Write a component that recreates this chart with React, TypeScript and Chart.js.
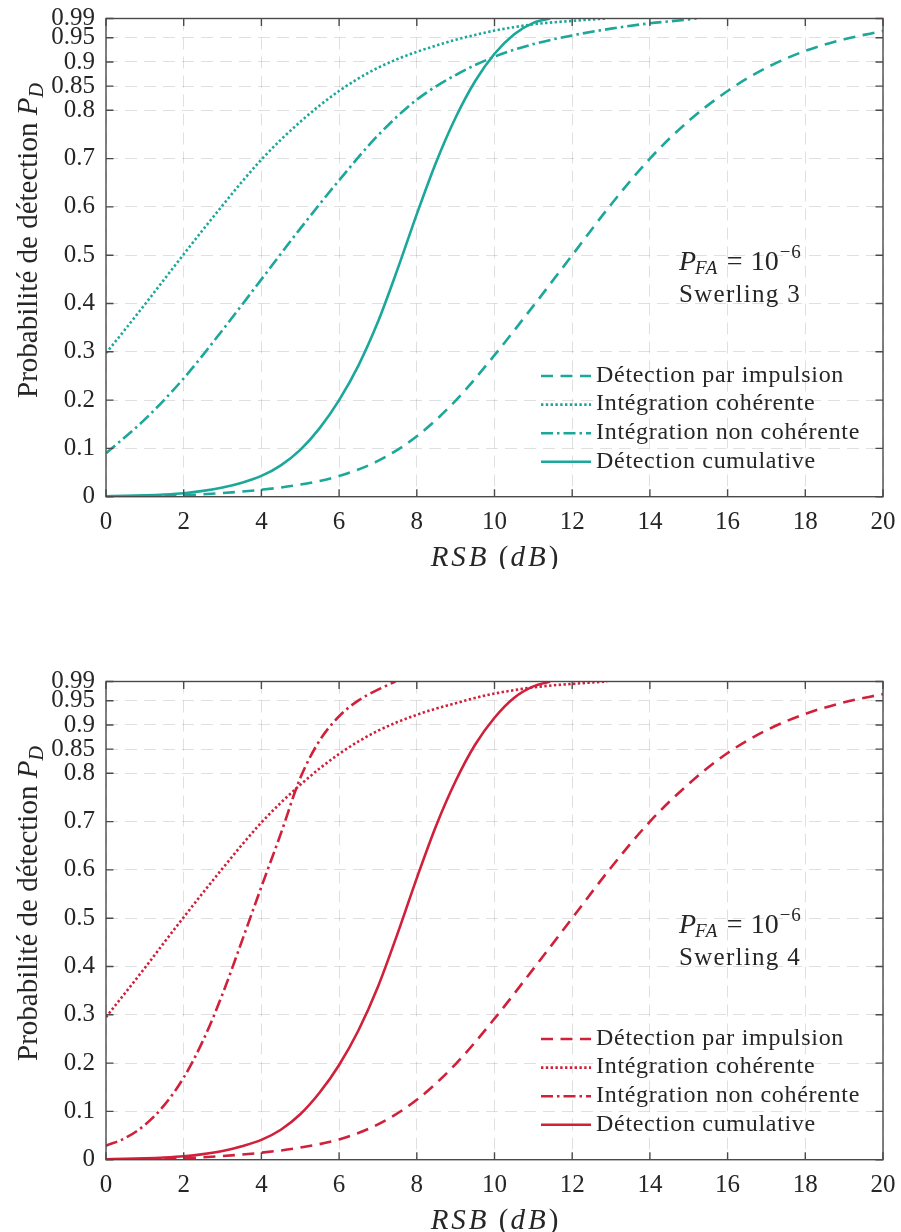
import React, { useEffect, useRef } from "react";
import { Chart, registerables } from "chart.js";

Chart.register(...registerables);

// ---------- data ----------
const X_TICKS = [0, 2, 4, 6, 8, 10, 12, 14, 16, 18, 20];
const Y_TICKS = [0, 0.1, 0.2, 0.3, 0.4, 0.5, 0.6, 0.7, 0.8, 0.85, 0.9, 0.95, 0.99];

const LEGEND_LABELS = [
  "Détection par impulsion",
  "Intégration cohérente",
  "Intégration non cohérente",
  "Détection cumulative",
];

// single pulse (dashed)
const SNR_SINGLE = [0, 1, 2, 3, 4, 5, 6, 7, 8, 9, 10, 11, 12, 13, 14, 15, 16, 17, 18, 19, 20];
const PD_SINGLE_SW3 = [0, 0.0008, 0.003, 0.0075, 0.0145, 0.025, 0.043, 0.074, 0.125, 0.199, 0.293, 0.395, 0.5, 0.605, 0.7, 0.778, 0.84, 0.888, 0.923, 0.947, 0.964];
const PD_SINGLE_SW4 = [0, 0.0008, 0.003, 0.0075, 0.0145, 0.025, 0.042, 0.073, 0.124, 0.198, 0.292, 0.395, 0.5, 0.605, 0.7, 0.778, 0.842, 0.889, 0.923, 0.947, 0.964];

// coherent integration (dotted)
const SNR_COH = [0, 0.5, 1, 1.5, 2, 2.5, 3, 3.5, 4, 4.5, 5, 5.5, 6, 6.5, 7, 7.5, 8, 8.5, 9, 9.5, 10, 10.5, 11, 11.5, 12, 12.5, 12.9];
const PD_COH_SW3 = [0.297, 0.347, 0.398, 0.45, 0.502, 0.553, 0.603, 0.652, 0.698, 0.739, 0.776, 0.81, 0.84, 0.866, 0.888, 0.906, 0.921, 0.934, 0.946, 0.956, 0.965, 0.972, 0.978, 0.982, 0.985, 0.988, 0.99];
const PD_COH_SW4 = [0.295, 0.346, 0.397, 0.45, 0.502, 0.553, 0.603, 0.652, 0.698, 0.739, 0.776, 0.81, 0.84, 0.866, 0.888, 0.906, 0.921, 0.934, 0.945, 0.956, 0.965, 0.972, 0.978, 0.982, 0.985, 0.988, 0.99];

// non-coherent integration (dash-dot)
const SNR_NC_SW3 = [0, 1, 2, 3, 4, 5, 6, 7, 8, 9, 10, 11, 12, 13, 14, 15, 15.2];
const PD_NC_SW3 = [0.09, 0.16, 0.245, 0.345, 0.45, 0.555, 0.655, 0.748, 0.822, 0.873, 0.911, 0.937, 0.955, 0.969, 0.98, 0.988, 0.99];
const SNR_NC_SW4 = [0, 0.5, 1, 1.5, 2, 2.5, 3, 3.5, 4, 4.5, 5, 5.5, 6, 6.5, 7, 7.45];
const PD_NC_SW4 = [0.029, 0.045, 0.072, 0.113, 0.17, 0.247, 0.343, 0.453, 0.565, 0.675, 0.79, 0.868, 0.918, 0.951, 0.973, 0.99];

// cumulative detection (solid)
const SNR_CUM = [0, 0.5, 1, 1.5, 2, 2.5, 3, 3.5, 4, 4.5, 5, 5.5, 6, 6.5, 7, 7.5, 8, 8.5, 9, 9.5, 10, 10.5, 11, 11.43];
const PD_CUM_SW3 = [0.001, 0.0017, 0.0028, 0.0045, 0.0072, 0.012, 0.019, 0.029, 0.043, 0.065, 0.097, 0.142, 0.2, 0.272, 0.362, 0.47, 0.585, 0.693, 0.785, 0.86, 0.917, 0.957, 0.981, 0.99];
const PD_CUM_SW4 = [0.001, 0.0017, 0.0028, 0.0045, 0.0071, 0.0115, 0.018, 0.028, 0.041, 0.062, 0.094, 0.139, 0.196, 0.268, 0.358, 0.467, 0.583, 0.692, 0.784, 0.859, 0.915, 0.956, 0.98, 0.99];

// ---------- style ----------
const TEAL = "#1ba79a";
const CRIMSON = "#d0203a";
const FONT = '"Liberation Serif", "Times New Roman", serif';
const TEXT = "#262626";
const GRID = "rgba(0,0,0,0.12)";
const DASHES = [[12, 7.5], [2.4, 2.4], [12, 4, 2.5, 4], []];
const LW = 2.6;

const W = 901;
const H = 569;

function pts(xs: number[], ys: number[]) {
  return xs.map((x, i) => ({ x, y: ys[i] }));
}

function setFont(ctx: CanvasRenderingContext2D, p: any) {
  ctx.font = `${p.italic ? "italic " : ""}${p.size}px ${FONT}`;
  (ctx as any).letterSpacing = p.ls ? `${p.ls}px` : "0px";
}

function drawPieces(ctx: CanvasRenderingContext2D, pieces: any[], x: number, y: number) {
  let cx = x;
  for (const p of pieces) {
    setFont(ctx, p);
    cx += p.dx || 0;
    ctx.fillText(p.t, cx, y + (p.dy || 0));
    cx += ctx.measureText(p.t).width;
  }
  (ctx as any).letterSpacing = "0px";
  return cx - x;
}

function measurePieces(ctx: CanvasRenderingContext2D, pieces: any[]) {
  let w = 0;
  for (const p of pieces) {
    setFont(ctx, p);
    w += ctx.measureText(p.t).width + (p.dx || 0);
  }
  (ctx as any).letterSpacing = "0px";
  return w;
}

function makeOverlay(color: string, swerling: string) {
  return {
    id: "overlay",
    afterDraw(chart: any) {
      const { ctx, chartArea: a, scales } = chart;
      const xs = scales.x;
      const ys = scales.y;
      ctx.save();

      // frame
      ctx.setLineDash([]);
      ctx.strokeStyle = "#4a4a4a";
      ctx.lineWidth = 1.4;
      ctx.strokeRect(a.left, a.top, a.right - a.left, a.bottom - a.top);

      // inward ticks on all sides
      const TL = 7.5;
      ctx.beginPath();
      X_TICKS.forEach((v) => {
        const px = xs.getPixelForValue(v);
        ctx.moveTo(px, a.bottom);
        ctx.lineTo(px, a.bottom - TL);
        ctx.moveTo(px, a.top);
        ctx.lineTo(px, a.top + TL);
      });
      Y_TICKS.forEach((v) => {
        const py = ys.getPixelForValue(v);
        ctx.moveTo(a.left, py);
        ctx.lineTo(a.left + TL, py);
        ctx.moveTo(a.right, py);
        ctx.lineTo(a.right - TL, py);
      });
      ctx.stroke();

      ctx.fillStyle = TEXT;
      ctx.textBaseline = "alphabetic";
      ctx.textAlign = "left";

      // y-axis title (rotated)
      ctx.save();
      ctx.translate(37, a.top + 379.5);
      ctx.rotate(-Math.PI / 2);
      drawPieces(ctx, [
        { t: "Probabilité de détection ", size: 29 },
        { t: "P", size: 29, italic: true },
        { t: "D", size: 20, italic: true, dy: 6 },
      ], 0, 0);
      ctx.restore();

      // x-axis title
      const xt = [
        { t: "RSB", size: 29, italic: true, ls: 3 },
        { t: " (", size: 29, ls: 2 },
        { t: "dB", size: 29, italic: true, ls: 3 },
        { t: ")", size: 29 },
      ];
      const xw = measurePieces(ctx, xt);
      drawPieces(ctx, xt, (a.left + a.right) / 2 - xw / 2, a.bottom + 69.5);

      // annotation
      const ax = a.left + 573;
      const ay = a.top + 251.5;
      drawPieces(ctx, [
        { t: "P", size: 28, italic: true },
        { t: "FA", size: 19, italic: true, dy: 4, ls: 1.5, dx: -1 },
        { t: "=", size: 28, dx: 8 },
        { t: "10", size: 28, dx: 8 },
        { t: "−6", size: 19, dy: -12, dx: 1, ls: 1 },
      ], ax, ay);
      drawPieces(ctx, [{ t: swerling, size: 25, ls: 1.3 }], ax, ay + 31.7);

      // legend
      const lx0 = a.left + 435;
      const lx1 = a.left + 485;
      const tx = a.left + 490;
      const by0 = a.top + 363.2;
      const step = 28.6;
      LEGEND_LABELS.forEach((lab, i) => {
        const by = by0 + i * step;
        const ly = by - 5.7;
        ctx.save();
        ctx.strokeStyle = color;
        ctx.lineWidth = LW;
        ctx.setLineDash(DASHES[i]);
        ctx.beginPath();
        ctx.moveTo(lx0, ly);
        ctx.lineTo(lx1, ly);
        ctx.stroke();
        ctx.restore();
        ctx.fillStyle = TEXT;
        drawPieces(ctx, [{ t: lab, size: 24, ls: 0.7 }], tx, by);
      });

      ctx.restore();
    },
  };
}

function zeroPad(s: any) {
  s.paddingTop = 0;
  s.paddingBottom = 0;
  s.paddingLeft = 0;
  s.paddingRight = 0;
}

function Panel(props: { color: string; swerling: string; series: { x: number[]; y: number[] }[]; top: number }) {
  const ref = useRef<HTMLCanvasElement | null>(null);
  useEffect(() => {
    const canvas = ref.current;
    if (!canvas) return;
    const datasets = props.series.map((s, i) => ({
      label: LEGEND_LABELS[i],
      data: pts(s.x, s.y),
      borderColor: props.color,
      backgroundColor: props.color,
      borderWidth: LW,
      borderDash: DASHES[i],
      pointRadius: 0,
      fill: false,
      cubicInterpolationMode: "monotone" as const,
    }));
    const tickFont = { family: FONT, size: 25 };
    const chart = new Chart(canvas, {
      type: "line",
      data: { datasets },
      options: {
        animation: false,
        responsive: false,
        maintainAspectRatio: false,
        devicePixelRatio: 1,
        layout: { padding: { top: 18.5, right: 18, bottom: 0, left: 0 } },
        plugins: { legend: { display: false }, tooltip: { enabled: false } },
        scales: {
          x: {
            type: "linear",
            min: 0,
            max: 20,
            afterFit: (s: any) => {
              s.height = 72.3;
              zeroPad(s);
            },
            afterBuildTicks: (s: any) => {
              s.ticks = X_TICKS.map((v) => ({ value: v }));
            },
            ticks: {
              font: tickFont,
              color: TEXT,
              padding: 11,
              autoSkip: false,
              maxRotation: 0,
              callback: (v: any) => String(v),
            },
            grid: { color: GRID, lineWidth: 1, drawTicks: false, tickLength: 0 },
            border: { display: false, dash: [12, 7] },
          },
          y: {
            type: "linear",
            min: 0,
            max: 0.99,
            afterFit: (s: any) => {
              s.width = 106;
              zeroPad(s);
            },
            afterBuildTicks: (s: any) => {
              s.ticks = Y_TICKS.map((v) => ({ value: v }));
            },
            ticks: {
              font: tickFont,
              color: TEXT,
              padding: 11,
              autoSkip: false,
              callback: (v: any) => String(v),
            },
            grid: { color: GRID, lineWidth: 1, drawTicks: false, tickLength: 0 },
            border: { display: false, dash: [12, 7] },
          },
        },
      } as any,
      plugins: [makeOverlay(props.color, props.swerling)],
    });
    return () => chart.destroy();
  }, []);
  return (
    <canvas
      ref={ref}
      width={W}
      height={H}
      style={{ position: "absolute", left: 0, top: props.top, width: W, height: H, display: "block" }}
    />
  );
}

export default function App() {
  return (
    <div style={{ position: "absolute", left: 0, top: 0, width: W, height: 1232, background: "#fff", overflow: "hidden" }}>
      <Panel
        color={TEAL}
        swerling="Swerling 3"
        top={0}
        series={[
          { x: SNR_SINGLE, y: PD_SINGLE_SW3 },
          { x: SNR_COH, y: PD_COH_SW3 },
          { x: SNR_NC_SW3, y: PD_NC_SW3 },
          { x: SNR_CUM, y: PD_CUM_SW3 },
        ]}
      />
      <Panel
        color={CRIMSON}
        swerling="Swerling 4"
        top={663}
        series={[
          { x: SNR_SINGLE, y: PD_SINGLE_SW4 },
          { x: SNR_COH, y: PD_COH_SW4 },
          { x: SNR_NC_SW4, y: PD_NC_SW4 },
          { x: SNR_CUM, y: PD_CUM_SW4 },
        ]}
      />
    </div>
  );
}
